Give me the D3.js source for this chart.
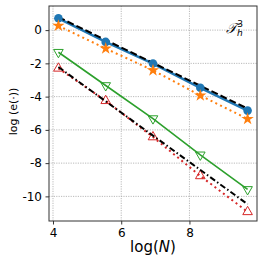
<!DOCTYPE html>
<html><head><meta charset="utf-8">
<script src="https://cdn.jsdelivr.net/npm/d3@7"></script>
<style>body{margin:0;background:#fff}svg{display:block}text{font-family:"DejaVu Sans",sans-serif}</style>
</head><body>
<svg id="c" width="265" height="265"></svg>
<script>
const logN = [4.159, 5.545, 6.931, 8.318, 9.704];
const seriesBlue = [0.71, -0.71, -2.01, -3.47, -4.84];
const seriesOrange = [0.26, -1.11, -2.42, -3.93, -5.34];
const seriesGreen = [-1.33, -3.33, -5.32, -7.50, -9.58];
const seriesRed = [-2.30, -4.25, -6.43, -8.77, -10.93];
const refX = [4.159, 9.704];
const refSlope1 = [0.78, -4.72];
const refSlope15 = [-2.22, -10.47];
const xTicks = [4, 6, 8];
const yTicks = [0, -2, -4, -6, -8, -10];

const svg = d3.select("#c");
const L = 49, R = 257, T = 6, B = 221;
const x = d3.scaleLinear().domain([3.883, 9.98]).range([L, R]);
const y = d3.scaleLinear().domain([1.45, -11.48]).range([T, B]);

// grid
const g = svg.append("g");
g.selectAll(".gx").data(xTicks).enter().append("line")
  .attr("x1", d => x(d)).attr("x2", d => x(d)).attr("y1", T).attr("y2", B)
  .attr("stroke", "#a8a8a8").attr("stroke-width", 0.8).attr("stroke-dasharray", "1.2,1.2");
g.selectAll(".gy").data(yTicks).enter().append("line")
  .attr("y1", d => y(d)).attr("y2", d => y(d)).attr("x1", L).attr("x2", R)
  .attr("stroke", "#a8a8a8").attr("stroke-width", 0.8).attr("stroke-dasharray", "1.2,1.2");

// axes
const xa = svg.append("g").attr("transform", `translate(0,${B})`)
  .call(d3.axisBottom(x).tickValues(xTicks).tickSize(3.5).tickPadding(3.5).tickFormat(d3.format("d")));
const ya = svg.append("g").attr("transform", `translate(${L},0)`)
  .call(d3.axisLeft(y).tickValues(yTicks).tickSize(3.5).tickPadding(3.5).tickFormat(d => d < 0 ? "-" + Math.abs(d) : String(d)));
[xa, ya].forEach(a => {
  a.select(".domain").remove();
  a.selectAll("text").attr("font-size", 12).attr("fill", "#000").attr("font-family", "DejaVu Sans");
  a.selectAll("line").attr("stroke", "#000").attr("stroke-width", 0.8);
});

const line = d3.line().x(d => x(d[0])).y(d => y(d[1]));
const zip = (xs, ys) => xs.map((v, i) => [v, ys[i]]);

const plot = svg.append("g");

// blue
plot.append("path").attr("d", line(zip(logN, seriesBlue))).attr("fill", "none").attr("stroke", "#1f77b4").attr("stroke-width", 2.5);
// black dashed ref slope -1
plot.append("path").attr("d", line(zip(refX, refSlope1))).attr("fill", "none").attr("stroke", "#000").attr("stroke-width", 2).attr("stroke-dasharray", "7,3");
plot.selectAll(".cb").data(zip(logN, seriesBlue)).enter().append("circle")
  .attr("cx", d => x(d[0])).attr("cy", d => y(d[1])).attr("r", 4.3).attr("fill", "#1f77b4");
// orange dotted
plot.append("path").attr("d", line(zip(logN, seriesOrange))).attr("fill", "none").attr("stroke", "#ff7f0e").attr("stroke-width", 2).attr("stroke-dasharray", "2,3.3");
const star = d3.symbol().type(d3.symbolStar).size(48);
plot.selectAll(".so").data(zip(logN, seriesOrange)).enter().append("path")
  .attr("d", star).attr("transform", d => `translate(${x(d[0])},${y(d[1])})`).attr("fill", "#ff7f0e");
// green
plot.append("path").attr("d", line(zip(logN, seriesGreen))).attr("fill", "none").attr("stroke", "#2ca02c").attr("stroke-width", 1.6);
const tri = d3.symbol().type(d3.symbolTriangle).size(40);
plot.selectAll(".tg").data(zip(logN, seriesGreen)).enter().append("path")
  .attr("d", tri).attr("transform", d => `translate(${x(d[0])},${y(d[1])}) rotate(180)`)
  .attr("fill", "none").attr("stroke", "#2ca02c").attr("stroke-width", 1);
// red dotted
plot.append("path").attr("d", line(zip(logN, seriesRed))).attr("fill", "none").attr("stroke", "#d62728").attr("stroke-width", 2).attr("stroke-dasharray", "2,3.3");
plot.selectAll(".tr").data(zip(logN, seriesRed)).enter().append("path")
  .attr("d", tri).attr("transform", d => `translate(${x(d[0])},${y(d[1])})`)
  .attr("fill", "none").attr("stroke", "#d62728").attr("stroke-width", 1);
// black dashdot ref slope -1.5
plot.append("path").attr("d", line(zip(refX, refSlope15))).attr("fill", "none").attr("stroke", "#000").attr("stroke-width", 2).attr("stroke-dasharray", "6,2.5,1.5,2.5");

// frame
svg.append("rect").attr("x", L).attr("y", T).attr("width", R - L).attr("height", B - T)
  .attr("fill", "none").attr("stroke", "#333").attr("stroke-width", 1);

// annotation
const ann = svg.append("text").attr("x", 226).attr("y", 33).attr("font-size", 14).attr("font-family", "DejaVu Serif").attr("font-style", "italic");
ann.append("tspan").text("𝒯");
ann.append("tspan").attr("font-size", 9).attr("dy", 3).attr("font-family", "DejaVu Sans").text("h");
ann.append("tspan").attr("font-size", 9).attr("dx", -5.5).attr("dy", -9).attr("font-family", "DejaVu Sans").attr("font-style", "normal").text("3");

// labels
const xl = svg.append("text").attr("x", (L + R) / 2).attr("y", 252).attr("text-anchor", "middle").attr("font-size", 15);
xl.append("tspan").text("log(");
xl.append("tspan").attr("font-style", "italic").text("N");
xl.append("tspan").text(")");
svg.append("text").attr("transform", `translate(17,${(T + B) / 2 - 2}) rotate(-90)`).attr("text-anchor", "middle").attr("font-size", 11).text("log (e(·))");
</script>
</body></html>
